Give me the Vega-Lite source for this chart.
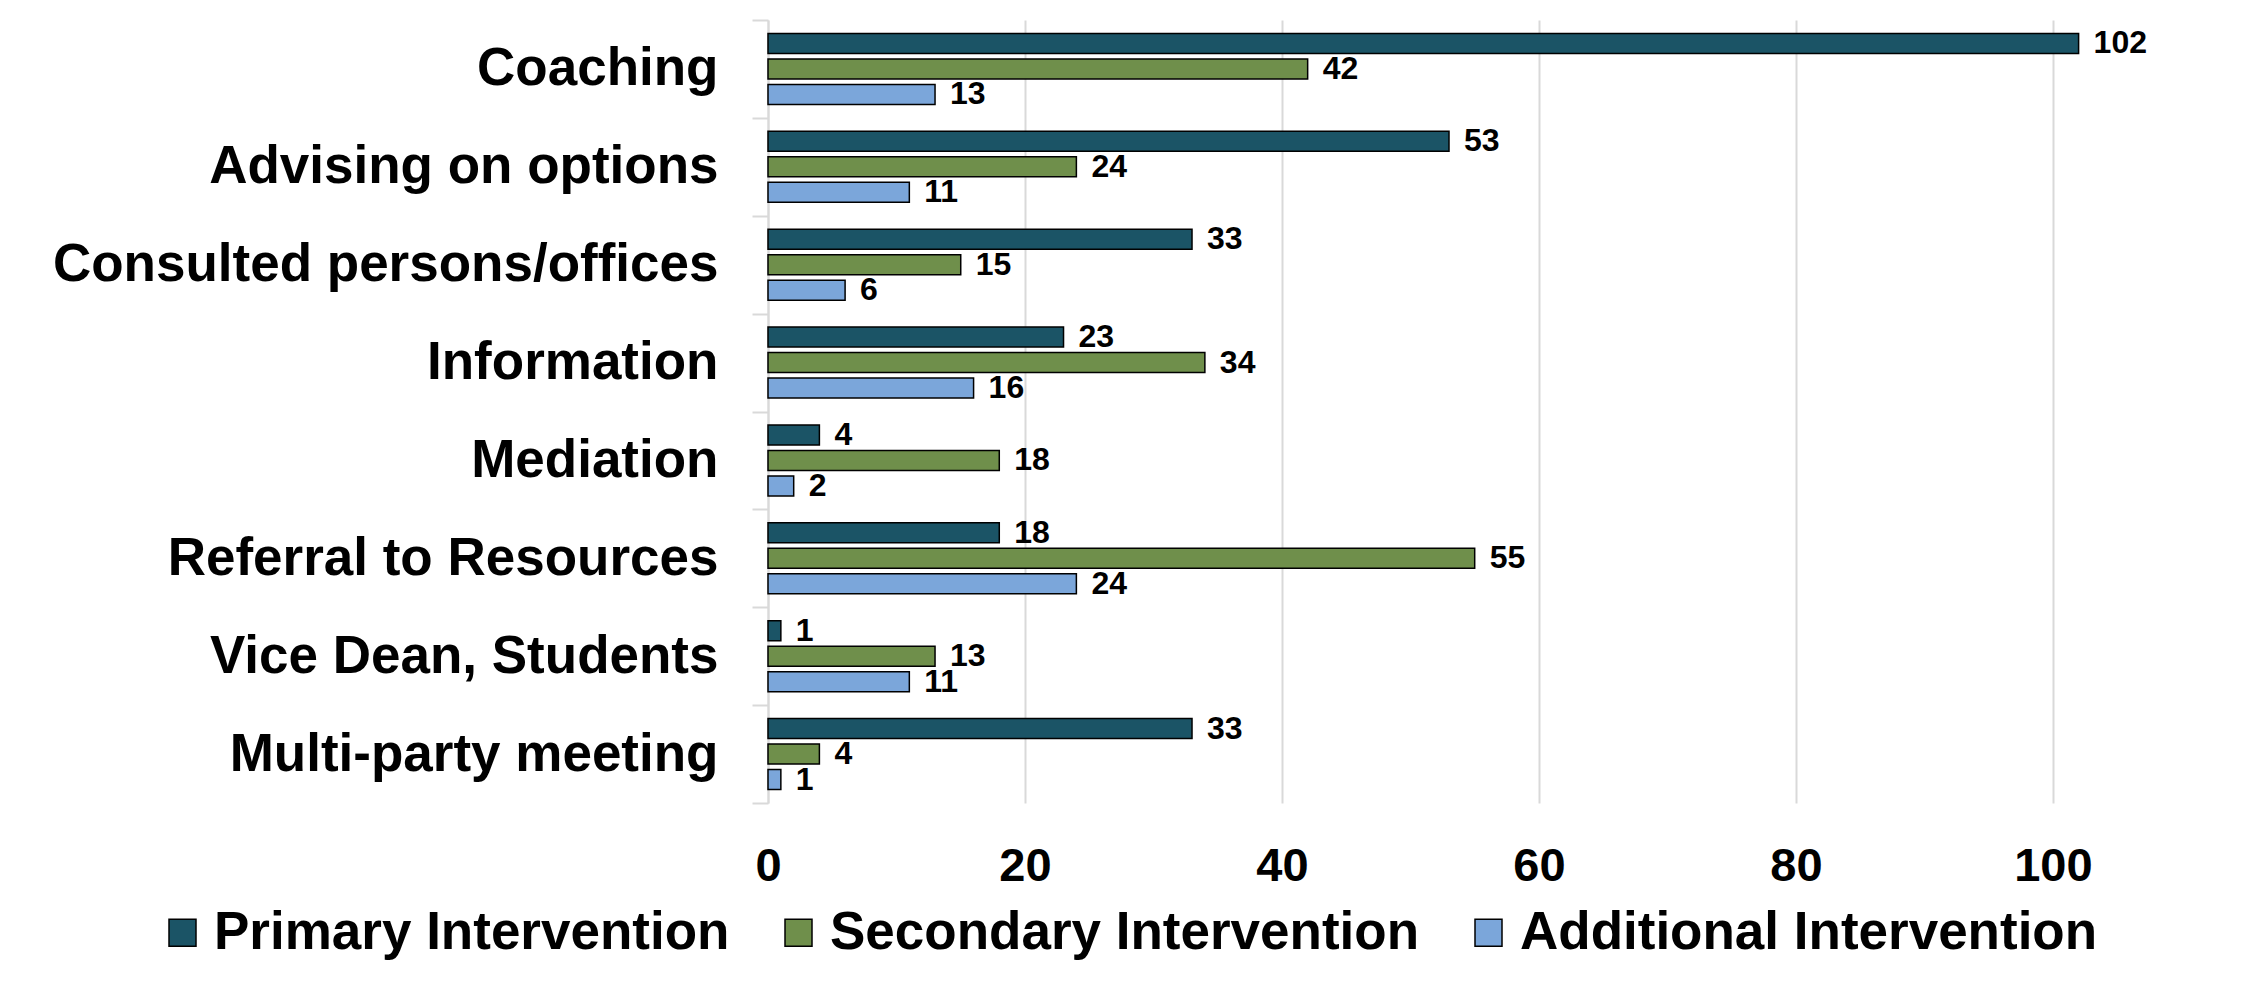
{
  "$schema": "https://vega.github.io/schema/vega-lite/v6.json",
  "width": 1362,
  "height": 783,
  "autosize": {"type": "none"},
  "padding": {"left": 768, "top": 20, "right": 127, "bottom": 181},
  "background": "white",
  "config": {"font": "Liberation Sans", "view": {"stroke": null}},
  "data": {"values": [
    {"category": "Coaching", "series": "Primary Intervention", "value": 102},
    {"category": "Coaching", "series": "Secondary Intervention", "value": 42},
    {"category": "Coaching", "series": "Additional Intervention", "value": 13},
    {"category": "Advising on options", "series": "Primary Intervention", "value": 53},
    {"category": "Advising on options", "series": "Secondary Intervention", "value": 24},
    {"category": "Advising on options", "series": "Additional Intervention", "value": 11},
    {"category": "Consulted persons/offices", "series": "Primary Intervention", "value": 33},
    {"category": "Consulted persons/offices", "series": "Secondary Intervention", "value": 15},
    {"category": "Consulted persons/offices", "series": "Additional Intervention", "value": 6},
    {"category": "Information", "series": "Primary Intervention", "value": 23},
    {"category": "Information", "series": "Secondary Intervention", "value": 34},
    {"category": "Information", "series": "Additional Intervention", "value": 16},
    {"category": "Mediation", "series": "Primary Intervention", "value": 4},
    {"category": "Mediation", "series": "Secondary Intervention", "value": 18},
    {"category": "Mediation", "series": "Additional Intervention", "value": 2},
    {"category": "Referral to Resources", "series": "Primary Intervention", "value": 18},
    {"category": "Referral to Resources", "series": "Secondary Intervention", "value": 55},
    {"category": "Referral to Resources", "series": "Additional Intervention", "value": 24},
    {"category": "Vice Dean, Students", "series": "Primary Intervention", "value": 1},
    {"category": "Vice Dean, Students", "series": "Secondary Intervention", "value": 13},
    {"category": "Vice Dean, Students", "series": "Additional Intervention", "value": 11},
    {"category": "Multi-party meeting", "series": "Primary Intervention", "value": 33},
    {"category": "Multi-party meeting", "series": "Secondary Intervention", "value": 4},
    {"category": "Multi-party meeting", "series": "Additional Intervention", "value": 1}
  ]},
  "encoding": {
    "y": {
      "field": "category", "type": "nominal", "sort": null,
      "scale": {"paddingInner": 0, "paddingOuter": 0},
      "axis": {
        "title": null, "tickBand": "extent", "ticks": true, "tickSize": 16, "tickColor": "#d9d9d9", "tickWidth": 2,
        "domain": true, "domainColor": "#d9d9d9", "domainWidth": 2, "grid": false,
        "labelFont": "Liberation Sans", "labelFontSize": 53, "labelFontWeight": "bold", "labelColor": "black",
        "labelPadding": 34, "labelLimit": 1000
      }
    },
    "yOffset": {
      "field": "series", "type": "nominal",
      "sort": ["Primary Intervention", "Secondary Intervention", "Additional Intervention"],
      "scale": {"paddingInner": 0.216, "paddingOuter": 0.528}
    },
    "x": {
      "field": "value", "type": "quantitative",
      "scale": {"domain": [0, 106], "nice": false},
      "axis": {
        "title": null, "values": [0, 20, 40, 60, 80, 100], "ticks": false, "domain": false,
        "grid": true, "gridColor": "#d9d9d9", "gridWidth": 2, "labelFlush": false,
        "labelFont": "Liberation Sans", "labelFontSize": 47, "labelFontWeight": "bold", "labelColor": "black",
        "labelPadding": 40
      }
    }
  },
  "layer": [
    {
      "mark": {"type": "bar", "stroke": "black", "strokeWidth": 1.5},
      "encoding": {
        "color": {
          "field": "series", "type": "nominal",
          "scale": {
            "domain": ["Primary Intervention", "Secondary Intervention", "Additional Intervention"],
            "range": ["#1b5466", "#6f8f4b", "#7ba6da"]
          },
          "legend": {
            "title": null, "orient": "none", "legendX": -612, "legendY": 886,
            "direction": "horizontal", "symbolType": "square", "symbolSize": 729,
            "symbolStrokeColor": "black", "symbolStrokeWidth": 1.5, "symbolOpacity": 1,
            "labelFont": "Liberation Sans", "labelFontSize": 53, "labelFontWeight": "bold", "labelColor": "black",
            "labelOffset": 5, "columnPadding": 42, "labelLimit": 1000
          }
        }
      }
    },
    {
      "mark": {"type": "text", "align": "left", "baseline": "middle", "dx": 15, "fontSize": 32, "fontWeight": "bold", "color": "black", "font": "Liberation Sans"},
      "encoding": {"text": {"field": "value", "type": "quantitative"}}
    }
  ]
}
